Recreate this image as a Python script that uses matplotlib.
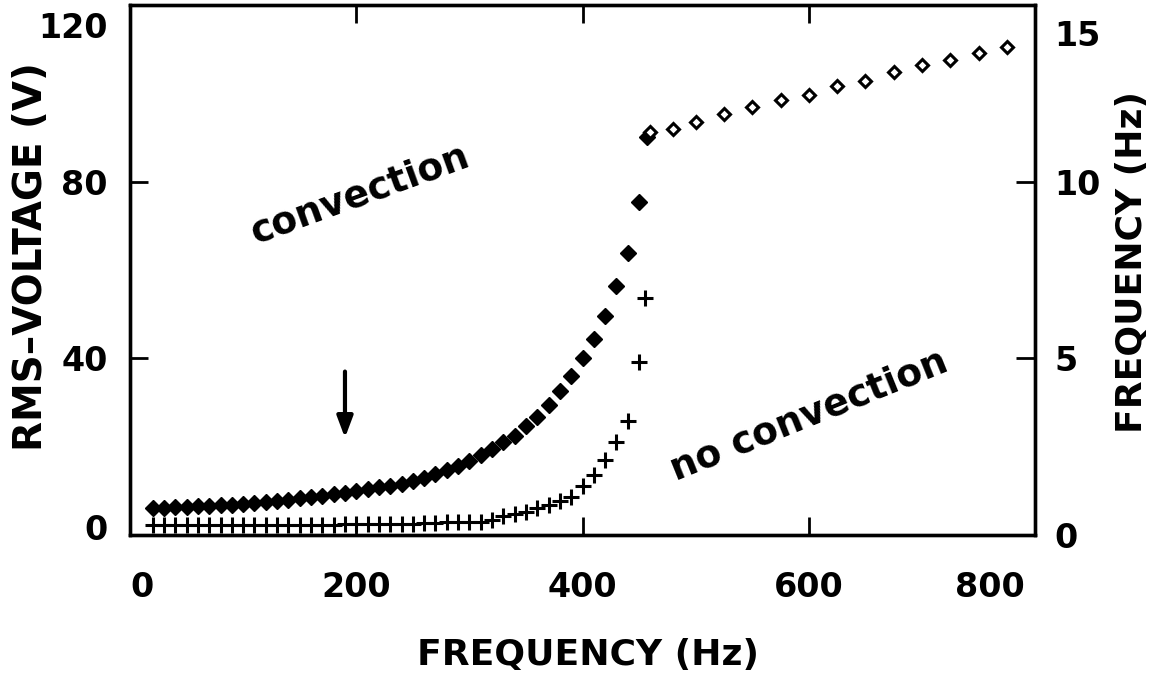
import matplotlib
matplotlib.use('Agg')
import matplotlib.pyplot as plt
import matplotlib.transforms as mtransforms
from matplotlib.patches import ArrowStyle

# threshold of convection (filled diamonds), left axis
freq_conv = [20, 30, 40, 50, 60, 70, 80, 90, 100, 110, 120, 130, 140, 150, 160,
             170, 180, 190, 200, 210, 220, 230, 240, 250, 260, 270, 280, 290, 300,
             310, 320, 330, 340, 350, 360, 370, 380, 390, 400, 410, 420, 430, 440,
             450, 457]
volt_conv = [6.1, 6.2, 6.3, 6.4, 6.5, 6.6, 6.7, 6.9, 7.0, 7.2, 7.5, 7.8, 8.0, 8.3, 8.6,
             8.9, 9.2, 9.6, 10.0, 10.4, 10.8, 11.2, 11.6, 12.2, 12.9, 13.7, 14.6, 15.6, 16.8,
             18.0, 19.5, 21.0, 22.5, 24.6, 26.8, 29.5, 32.5, 35.9, 40.0, 44.3, 49.5, 56.4, 63.9,
             75.5, 90.2]

# no convection (plus markers), left axis
freq_noconv = [20, 30, 40, 50, 60, 70, 80, 90, 100, 110, 120, 130, 140, 150, 160,
               170, 180, 190, 200, 210, 220, 230, 240, 250, 260, 270, 280, 290, 300,
               310, 320, 330, 340, 350, 360, 370, 380, 390, 400, 410, 420, 430, 440,
               450, 455]
volt_noconv = [2.2, 2.2, 2.2, 2.2, 2.2, 2.2, 2.2, 2.2, 2.2, 2.3, 2.3, 2.3, 2.3, 2.3, 2.3,
               2.3, 2.3, 2.4, 2.4, 2.4, 2.5, 2.5, 2.5, 2.6, 2.7, 2.8, 2.9, 2.9, 2.9,
               3.0, 3.5, 4.2, 4.7, 5.3, 6.0, 6.8, 7.6, 8.7, 11.0, 13.5, 17.0, 21.1, 25.7,
               39.1, 53.6]

# oscillation frequency (open diamonds), right axis
freq_osc = [460, 480, 500, 525, 550, 575, 600, 625, 650, 675, 700, 725, 750, 775]
hz_osc = [11.4, 11.5, 11.7, 11.9, 12.1, 12.3, 12.45, 12.7, 12.85, 13.1, 13.3, 13.45, 13.65, 13.8]

xticks = [0, 200, 400, 600, 800]
yticks_left = [0, 40, 80, 120]
yticks_right = [0, 5, 10, 15]

plt.rcParams['font.weight'] = 'bold'
fs = 24
fig = plt.figure(figsize=(11.63, 6.79), dpi=100)
ax = fig.add_axes([0.1118, 0.2121, 0.7782, 0.7806])
ax2 = ax.twinx()

ax.plot(freq_conv, volt_conv, 'D', ms=8, color='black')
ax.plot(freq_noconv, volt_noconv, '+', ms=12, mew=2.2, color='black')
ax2.plot(freq_osc, hz_osc, 'D', ms=6.5, mfc='white', mec='black', mew=2.2)

ax.set_xlim(0, 800)
ax.set_ylim(0, 120)
ax2.set_ylim(0, 15)
ax.set_xticks(xticks)
ax.set_yticks(yticks_left)
ax2.set_yticks(yticks_right)

for a in (ax, ax2):
    for s in a.spines.values():
        s.set_linewidth(2.4)
ax.tick_params(axis='x', direction='in', length=13, width=2, top=True, labelsize=fs, pad=26)
ax.tick_params(axis='y', direction='in', length=13, width=2, labelsize=fs, pad=16)
ax2.tick_params(axis='y', direction='in', length=14, width=2, labelsize=fs, pad=14)


def shift(lab, dx, dy):
    off = mtransforms.ScaledTranslation(dx / 100, dy / 100, fig.dpi_scale_trans)
    lab.set_transform(lab.get_transform() + off)


ylabs = ax.get_yticklabels()
shift(ylabs[-1], 0, -20)
shift(ylabs[0], 0, 8)
shift(ax2.get_yticklabels()[-1], 0, -28)
xlabs = ax.get_xticklabels()
shift(xlabs[0], 12, 0)
shift(xlabs[-1], -45, 0)

fig.text(31 / 1163, 1 - 257 / 679, 'RMS–VOLTAGE (V)', rotation=90, ha='center', va='center', fontsize=28)
fig.text(1132 / 1163, 1 - 262 / 679, 'FREQUENCY (Hz)', rotation=90, ha='center', va='center', fontsize=26)
fig.text(588 / 1163, 1 - 655 / 679, 'FREQUENCY (Hz)', ha='center', va='center', fontsize=26)

ax.text(203, 77, 'convection', rotation=20, ha='center', va='center', fontsize=27, rotation_mode='anchor')
ax.text(600, 27, 'no convection', rotation=22, ha='center', va='center', fontsize=27, rotation_mode='anchor')

ax.annotate('', xy=(190, 22), xytext=(190, 37),
            arrowprops=dict(arrowstyle=ArrowStyle('-|>', head_length=0.4, head_width=0.15),
                            lw=3, color='black', mutation_scale=32, shrinkA=0, shrinkB=0))

fig.savefig('out.png', dpi=100)
